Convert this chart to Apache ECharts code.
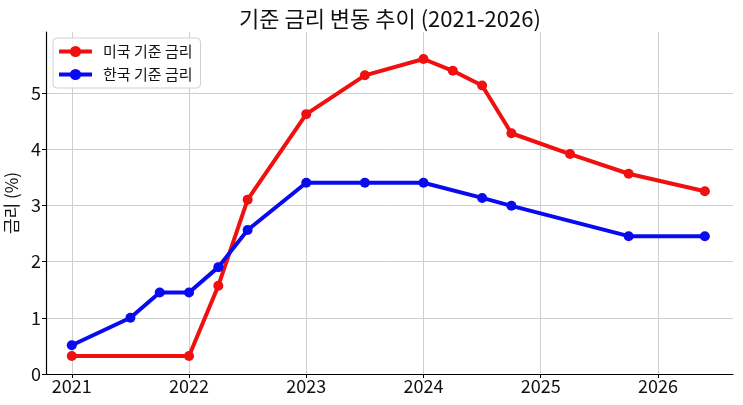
<!DOCTYPE html>
<html>
<head>
<meta charset="utf-8">
<script src="https://cdn.jsdelivr.net/npm/echarts@6/dist/echarts.min.js"></script>
<style>
  html, body { margin: 0; padding: 0; background: #fff; }
  #chart { width: 743px; height: 405px; }
</style>
</head>
<body>
<div id="chart"></div>
<script>
// 연도(소수) 기준 시점
const usTimes = [2021, 2022, 2022.25, 2022.5, 2023, 2023.5, 2024, 2024.25, 2024.5, 2024.75, 2025.25, 2025.75, 2026.4];
const usRates = [0.32, 0.32, 1.57, 3.1, 4.62, 5.31, 5.6, 5.39, 5.13, 4.28, 3.91, 3.56, 3.25];

const krTimes = [2021, 2021.5, 2021.75, 2022, 2022.25, 2022.5, 2023, 2023.5, 2024, 2024.5, 2024.75, 2025.75, 2026.4];
const krRates = [0.51, 1.0, 1.45, 1.45, 1.9, 2.56, 3.4, 3.4, 3.4, 3.13, 2.99, 2.45, 2.45];

const yearTicks = [2021, 2022, 2023, 2024, 2025, 2026];
const rateTicks = [0, 1, 2, 3, 4, 5];

const font = '"Noto Sans CJK KR", "Noto Sans", sans-serif';

const zip = (xs, ys) => xs.map((x, i) => [x, ys[i]]);

const chart = echarts.init(document.getElementById('chart'));

const lineSeries = (name, color, data) => ({
  name: name,
  type: 'line',
  data: data,
  symbol: 'circle',
  symbolSize: 10,
  lineStyle: { color: color, width: 4 },
  itemStyle: { color: color },
  emphasis: { disabled: true },
  animation: false
});

chart.setOption({
  backgroundColor: '#fff',
  textStyle: { fontFamily: font },
  title: {
    text: '기준 금리 변동 추이 (2021-2026)',
    left: 234,
    top: 3,
    textStyle: { fontFamily: font, fontSize: 22, fontWeight: 'normal', color: '#111' }
  },
  legend: {
    orient: 'vertical',
    left: 53,
    top: 38,
    padding: [6, 8, 6, 4],
    itemGap: 8,
    itemWidth: 33,
    itemHeight: 14,
    borderColor: '#d0d0d0',
    borderWidth: 1,
    borderRadius: 4,
    backgroundColor: 'rgba(255,255,255,0.85)',
    lineStyle: { width: 4 },
    textStyle: { fontFamily: font, fontSize: 15, color: '#111', padding: [0, 0, 0, 6] },
    data: ['미국 기준 금리', '한국 기준 금리']
  },
  grid: { left: 46, right: 10, top: 32, bottom: 31, containLabel: false, outerBoundsMode: 'none' },
  xAxis: {
    type: 'value',
    min: 2020.78,
    max: 2026.64,
    axisLine: { show: true, lineStyle: { color: '#000', width: 1.2 } },
    axisTick: { show: true, length: 4, lineStyle: { color: '#000' }, customValues: yearTicks },
    axisLabel: {
      customValues: yearTicks,
      fontFamily: font, fontSize: 18, color: '#111', margin: 3,
      formatter: v => String(v)
    },
    splitLine: { show: true, lineStyle: { color: '#cfcfcf', width: 1 } }
  },
  yAxis: {
    type: 'value',
    min: 0,
    max: 6.08,
    name: '금리 (%)',
    nameLocation: 'middle',
    nameGap: 26,
    nameTextStyle: { fontFamily: font, fontSize: 17, color: '#111' },
    axisLine: { show: true, lineStyle: { color: '#000', width: 1.2 } },
    axisTick: { show: true, length: 4, lineStyle: { color: '#000' }, customValues: rateTicks },
    axisLabel: {
      customValues: rateTicks,
      fontFamily: font, fontSize: 18, color: '#111', margin: 5
    },
    splitLine: { show: true, lineStyle: { color: '#cfcfcf', width: 1 } }
  },
  series: [
    lineSeries('미국 기준 금리', '#f01010', zip(usTimes, usRates)),
    lineSeries('한국 기준 금리', '#0a0af0', zip(krTimes, krRates))
  ]
});
</script>
</body>
</html>
